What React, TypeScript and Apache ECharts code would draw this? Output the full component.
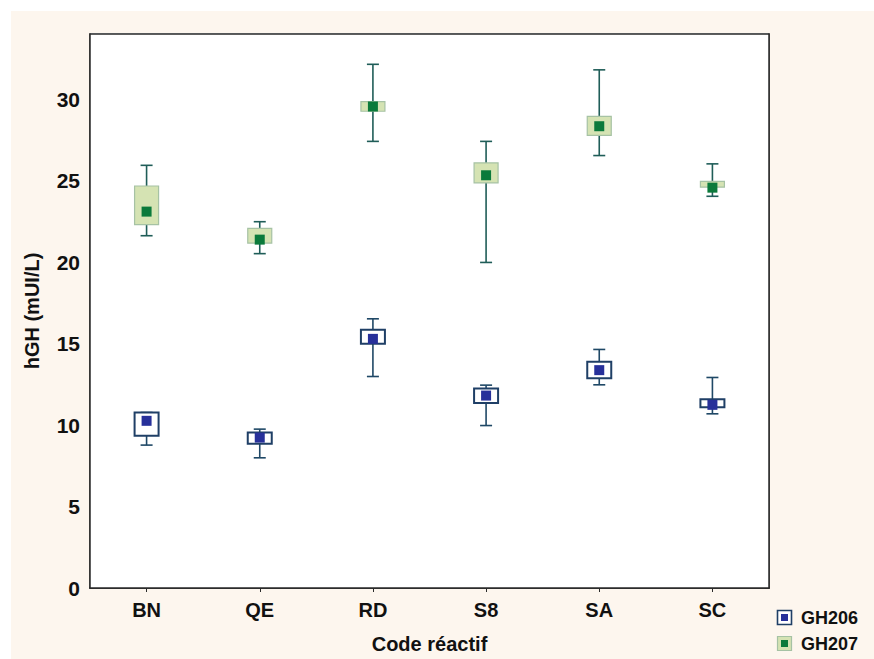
import React, { useEffect, useRef } from "react";
import * as echarts from "echarts";

const categories = ["BN", "QE", "RD", "S8", "SA", "SC"];
const yTicks = [0, 5, 10, 15, 20, 25, 30];
const seriesNames = ["GH206", "GH207"];

// GH206
const gh206WhiskerLow = [8.77, 7.99, 12.98, 9.97, 12.47, 10.69];
const gh206BoxLow = [9.34, 8.85, 14.99, 11.35, 12.88, 11.1];
const gh206Mean = [10.26, 9.23, 15.29, 11.81, 13.37, 11.24];
const gh206BoxHigh = [10.77, 9.54, 15.85, 12.24, 13.88, 11.59];
const gh206WhiskerHigh = [10.77, 9.75, 16.52, 12.45, 14.64, 12.92];

// GH207
const gh207WhiskerLow = [21.62, 20.52, 27.41, 19.98, 26.54, 24.04];
const gh207BoxLow = [22.3, 21.17, 29.26, 24.86, 27.78, 24.6];
const gh207Mean = [23.1, 21.38, 29.55, 25.33, 28.34, 24.57];
const gh207BoxHigh = [24.67, 22.07, 29.85, 26.09, 28.95, 24.96];
const gh207WhiskerHigh = [25.94, 22.48, 32.14, 27.41, 31.8, 26.03];

const buildData = (wl: number[], bl: number[], m: number[], bh: number[], wh: number[]) =>
  categories.map((_, i) => [i, wl[i], bl[i], m[i], bh[i], wh[i]]);

const makeRender = (st: {
  whisker: string;
  boxFill: string;
  boxBorder: string;
  boxBorderWidth: number;
  mean: string;
}) => (params: any, api: any) => {
  const idx = api.value(0);
  const x = api.coord([idx, 0])[0];
  const y = (v: number) => api.coord([idx, v])[1];
  const wl = y(api.value(1));
  const bl = y(api.value(2));
  const m = y(api.value(3));
  const bh = y(api.value(4));
  const wh = y(api.value(5));
  const boxW = 24;
  const capW = 12;
  const meanS = 10;
  const lineStyle = { stroke: st.whisker, lineWidth: 1.6 };
  return {
    type: "group",
    children: [
      { type: "line", shape: { x1: x, y1: wl, x2: x, y2: wh }, style: lineStyle },
      { type: "line", shape: { x1: x - capW / 2, y1: wl, x2: x + capW / 2, y2: wl }, style: lineStyle },
      { type: "line", shape: { x1: x - capW / 2, y1: wh, x2: x + capW / 2, y2: wh }, style: lineStyle },
      {
        type: "rect",
        shape: { x: x - boxW / 2, y: bh, width: boxW, height: Math.max(bl - bh, 1) },
        style: { fill: st.boxFill, stroke: st.boxBorder, lineWidth: st.boxBorderWidth },
      },
      {
        type: "rect",
        shape: { x: x - meanS / 2, y: m - meanS / 2, width: meanS, height: meanS },
        style: { fill: st.mean },
      },
    ],
  };
};

const gh206Style = {
  whisker: "#1f4866",
  boxFill: "#ffffff",
  boxBorder: "#1f3f66",
  boxBorderWidth: 2,
  mean: "#27309a",
};
const gh207Style = {
  whisker: "#1f5d58",
  boxFill: "#d5e3b3",
  boxBorder: "#a6c2a4",
  boxBorderWidth: 1.2,
  mean: "#0b7a3b",
};

export default function App() {
  const ref = useRef<HTMLDivElement>(null);
  useEffect(() => {
    if (!ref.current) return;
    const chart = echarts.init(ref.current, undefined, { renderer: "svg" });
    const font = "'Liberation Sans', Arial, sans-serif";
    const legendStyles = [gh206Style, gh207Style];
    const legendEls: any[] = [];
    seriesNames.forEach((name, i) => {
      const top = 610 + i * 26;
      const st = legendStyles[i];
      legendEls.push(
        {
          type: "rect",
          z: 100,
          silent: true,
          shape: { x: 777.5, y: top + 0.5, width: 14, height: 14 },
          style: { fill: st.boxFill, stroke: st.boxBorder, lineWidth: i === 0 ? 1.6 : 1.2 },
        },
        {
          type: "rect",
          z: 101,
          silent: true,
          shape: { x: 781, y: top + 4, width: 7, height: 7 },
          style: { fill: st.mean },
        },
        {
          type: "text",
          z: 101,
          silent: true,
          x: 801,
          y: top + 8,
          style: {
            text: name,
            fill: "#111",
            font: `bold 18px ${font}`,
            verticalAlign: "middle",
            align: "left",
          },
        }
      );
    });
    chart.setOption({
      animation: false,
      backgroundColor: "#ffffff",
      textStyle: { fontFamily: font },
      grid: {
        left: 90,
        right: 105,
        top: 34,
        bottom: 71,
        show: true,
        backgroundColor: "#ffffff",
        borderColor: "#2a2a2a",
        borderWidth: 1.5,
        z: 1,
      },
      graphic: {
        elements: [
          {
            type: "rect",
            z: -100,
            silent: true,
            shape: { x: 11, y: 11, width: 863, height: 648 },
            style: { fill: "#fdf6ee" },
          },
          ...legendEls,
        ],
      },
      xAxis: [
        {
          type: "category",
          data: categories,
          position: "bottom",
          name: "Code réactif",
          nameLocation: "middle",
          nameGap: 46,
          nameTextStyle: { fontFamily: font, fontWeight: "bold", fontSize: 20, color: "#111" },
          axisLine: { show: true, lineStyle: { color: "#2a2a2a", width: 1.5 } },
          axisTick: { show: true, inside: true, alignWithLabel: true, length: 4, lineStyle: { color: "#2a2a2a" } },
          axisLabel: { fontFamily: font, fontWeight: "bold", fontSize: 20, color: "#111", margin: 12 },
          splitLine: { show: false },
        },
        {
          type: "category",
          data: categories,
          position: "top",
          axisLine: { show: true, lineStyle: { color: "#2a2a2a", width: 1.5 } },
          axisTick: { show: true, inside: true, alignWithLabel: true, length: 4, lineStyle: { color: "#2a2a2a" } },
          axisLabel: { show: false },
          splitLine: { show: false },
        },
      ],
      yAxis: [
        {
          type: "value",
          min: yTicks[0],
          max: 34,
          interval: 5,
          position: "left",
          name: "hGH (mUI/L)",
          nameLocation: "middle",
          nameGap: 48,
          nameTextStyle: { fontFamily: font, fontWeight: "bold", fontSize: 20, color: "#111" },
          axisLine: { show: true, lineStyle: { color: "#2a2a2a", width: 1.5 } },
          axisTick: { show: true, inside: true, length: 4, lineStyle: { color: "#2a2a2a" } },
          axisLabel: {
            fontFamily: font,
            fontWeight: "bold",
            fontSize: 21,
            color: "#111",
            margin: 10,
            showMaxLabel: false,
            formatter: (v: number) => (yTicks.includes(v) ? String(v) : ""),
          },
          splitLine: { show: true, lineStyle: { color: "#c6dbea", width: 1.5 } },
        },
        {
          type: "value",
          min: yTicks[0],
          max: 34,
          interval: 5,
          position: "right",
          axisLine: { show: true, lineStyle: { color: "#2a2a2a", width: 1.5 } },
          axisTick: { show: true, inside: true, length: 4, lineStyle: { color: "#2a2a2a" } },
          axisLabel: { show: false },
          splitLine: { show: false },
        },
      ],
      series: [
        {
          name: seriesNames[0],
          type: "custom",
          xAxisIndex: 0,
          yAxisIndex: 0,
          itemStyle: { color: "#27309a" },
          renderItem: makeRender(gh206Style),
          encode: { x: 0, y: [1, 2, 3, 4, 5] },
          data: buildData(gh206WhiskerLow, gh206BoxLow, gh206Mean, gh206BoxHigh, gh206WhiskerHigh),
          z: 5,
        },
        {
          name: seriesNames[1],
          type: "custom",
          xAxisIndex: 0,
          yAxisIndex: 0,
          itemStyle: { color: "#0b7a3b" },
          renderItem: makeRender(gh207Style),
          encode: { x: 0, y: [1, 2, 3, 4, 5] },
          data: buildData(gh207WhiskerLow, gh207BoxLow, gh207Mean, gh207BoxHigh, gh207WhiskerHigh),
          z: 5,
        },
      ],
    });
    return () => chart.dispose();
  }, []);
  return <div ref={ref} style={{ width: 874, height: 659, position: "absolute", left: 0, top: 0 }} />;
}
